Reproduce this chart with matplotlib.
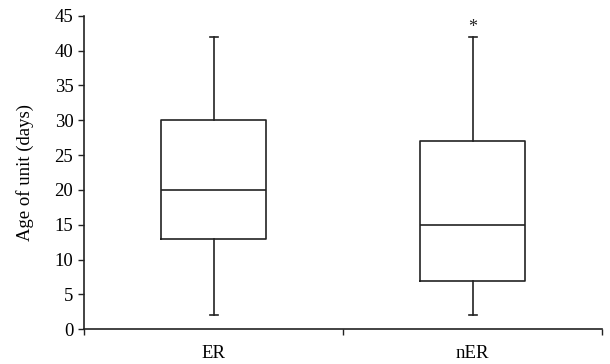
import matplotlib
matplotlib.use("Agg")
import matplotlib.pyplot as plt

categories = ["ER", "nER"]
whisker_low = [2, 2]
q1 = [13, 7]
median = [20, 15]
q3 = [30, 27]
whisker_high = [42, 42]
outlier_marks = [None, "*"]
outlier_y = [None, 43.3]
y_ticks = [0, 5, 10, 15, 20, 25, 30, 35, 40, 45]

plt.rcParams['font.family'] = ['Liberation Serif', 'DejaVu Serif']

fig = plt.figure(figsize=(6.10, 3.64), dpi=100)
ax = fig.add_axes([0.1385, 0.0953, 0.8485, 0.8617])

stats = []
for i, c in enumerate(categories):
    stats.append(dict(label=c, whislo=whisker_low[i], q1=q1[i], med=median[i],
                      q3=q3[i], whishi=whisker_high[i], fliers=[]))

positions = [0.5 + i for i in range(len(categories))]
lc = '#222222'
ax.bxp(stats, positions=positions, widths=0.405, capwidths=0.032,
       boxprops=dict(color=lc, linewidth=1.2),
       medianprops=dict(color=lc, linewidth=1.2),
       whiskerprops=dict(color=lc, linewidth=1.2),
       capprops=dict(color=lc, linewidth=1.2),
       showfliers=False, manage_ticks=False)

for i, m in enumerate(outlier_marks):
    if m:
        ax.text(positions[i], outlier_y[i], m, ha='center', va='center',
                fontsize=13, color=lc)

fs = 13.5
ax.set_xlim(0, len(categories))
ax.set_ylim(0, 45)
ax.set_yticks(y_ticks)
ax.set_xticks(range(len(categories) + 1))
ax.set_xticklabels([])
ax.set_xticks(positions, minor=True)
ax.set_xticklabels(categories, minor=True, fontsize=fs)
ax.tick_params(axis='x', which='minor', length=0, pad=11)
ax.tick_params(axis='x', which='major', length=4, width=1, direction='out', color=lc)
ax.tick_params(axis='y', length=4, width=1, direction='out', labelsize=fs, color=lc, pad=4)
for s in ['top', 'right']:
    ax.spines[s].set_visible(False)
for s in ['left', 'bottom']:
    ax.spines[s].set_color(lc)
    ax.spines[s].set_linewidth(1.2)
ax.set_ylabel("Age of unit (days)", fontsize=fs, labelpad=15)

fig.savefig("out.png", dpi=100)
